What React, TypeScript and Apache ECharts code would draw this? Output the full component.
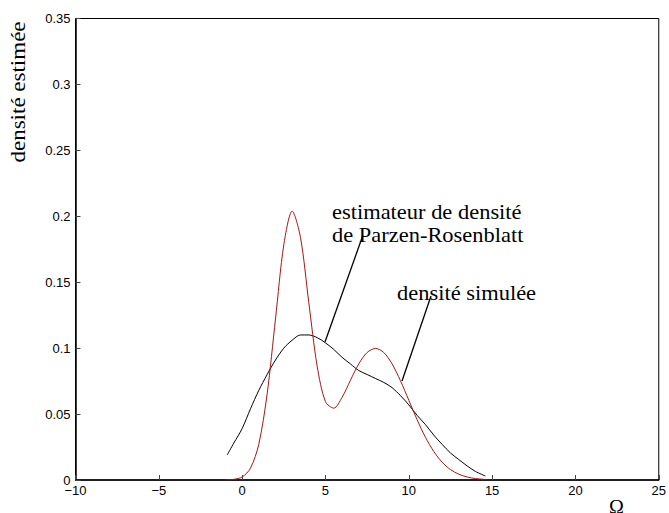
import React, { useEffect, useRef } from "react";
import * as echarts from "echarts";

const xTicks = [-10, -5, 0, 5, 10, 15, 20, 25];
const yTicks = [0, 0.05, 0.1, 0.15, 0.2, 0.25, 0.3, 0.35];

const redX = [-1, -0.5, 0, 0.5, 1, 1.5, 2, 2.5, 3, 3.5, 4, 4.5, 5, 5.5, 6, 6.5, 7, 7.5, 8, 8.5, 9, 9.5, 10, 10.5, 11, 11.5, 12, 12.5, 13, 13.5, 14, 14.5, 14.65];
const redY = [0.0001, 0.0005, 0.0023, 0.0089, 0.0272, 0.0653, 0.1221, 0.1784, 0.2039, 0.184, 0.1345, 0.0864, 0.0594, 0.0545, 0.0627, 0.0757, 0.0881, 0.0967, 0.0998, 0.0967, 0.088, 0.0753, 0.0605, 0.0457, 0.0324, 0.0216, 0.0135, 0.0079, 0.0044, 0.0023, 0.0011, 0.0005, 0.0004];

const blackX = [-0.9, -0.5, 0, 0.5, 1, 1.5, 2, 2.5, 3, 3.5, 4, 4.5, 5, 5.5, 6, 6.5, 7, 7.5, 8, 8.5, 9, 9.5, 10, 10.5, 11, 11.5, 12, 12.5, 13, 13.5, 14, 14.6];
const blackY = [0.019, 0.028, 0.039, 0.054, 0.068, 0.08, 0.091, 0.1, 0.106, 0.11, 0.11, 0.108, 0.104, 0.099, 0.093, 0.088, 0.083, 0.08, 0.077, 0.074, 0.07, 0.064, 0.057, 0.049, 0.042, 0.034, 0.027, 0.0205, 0.0155, 0.0107, 0.0065, 0.003];

const yTitle = "densité estimée";
const xTitle = "Ω";
const noteKde = ["estimateur de densité", "de Parzen-Rosenblatt"];
const noteSim = "densité simulée";

export default function App() {
  const ref = useRef<HTMLDivElement>(null);
  useEffect(() => {
    if (!ref.current) return;
    const chart = echarts.init(ref.current, null, { renderer: "svg" });
    const serif = "'Liberation Serif', 'Times New Roman', serif";
    const sans = "'Liberation Sans', Arial, sans-serif";
    chart.setOption({
      animation: false,
      backgroundColor: "#fff",
      grid: {
        left: 75.5,
        right: 9,
        top: 18.5,
        bottom: 33,
        show: true,
        borderColor: "#000",
        borderWidth: 1,
        backgroundColor: "transparent",
      },
      xAxis: {
        type: "value",
        min: xTicks[0],
        max: xTicks[xTicks.length - 1],
        interval: 5,
        splitLine: { show: false },
        axisLine: { show: true, onZero: false, lineStyle: { color: "#000", width: 1.5 } },
        axisTick: { show: true, inside: true, length: 5, lineStyle: { color: "#444" } },
        axisLabel: {
          color: "#000",
          fontFamily: sans,
          fontSize: 13,
          margin: 4,
          formatter: (v: number) => String(v).replace("-", "\u2212"),
        },
      },
      yAxis: {
        type: "value",
        min: yTicks[0],
        max: yTicks[yTicks.length - 1],
        interval: 0.05,
        splitLine: { show: false },
        axisLine: { show: true, onZero: false, lineStyle: { color: "#000", width: 1.5 } },
        axisTick: { show: true, inside: true, length: 5, lineStyle: { color: "#444" } },
        axisLabel: {
          color: "#000",
          fontFamily: sans,
          fontSize: 13,
          margin: 5,
          formatter: (v: number) => String(Math.round(v * 100) / 100),
        },
      },
      series: [
        {
          type: "line",
          data: blackX.map((x, i) => [x, blackY[i]]),
          smooth: 0.3,
          showSymbol: false,
          lineStyle: { color: "#000", width: 1 },
          z: 3,
        },
        {
          type: "line",
          data: redX.map((x, i) => [x, redY[i]]),
          smooth: 0.3,
          showSymbol: false,
          lineStyle: { color: "#a01818", width: 1 },
          z: 4,
        },
      ],
      graphic: [
        {
          type: "text",
          x: 19,
          y: 92,
          rotation: Math.PI / 2,
          scaleX: 1.15,
          style: {
            text: yTitle,
            fontFamily: serif,
            fontSize: 20,
            fill: "#000",
            align: "center",
            verticalAlign: "middle",
          },
        },
        {
          type: "text",
          left: 609,
          top: 497,
          style: { text: xTitle, fontFamily: serif, fontSize: 20, fill: "#000" },
        },
        {
          type: "text",
          x: 332,
          y: 202,
          scaleX: 1.07,
          style: { text: noteKde[0], fontFamily: serif, fontSize: 21, fill: "#000", verticalAlign: "alphabetic" },
        },
        {
          type: "text",
          x: 332,
          y: 225,
          scaleX: 1.07,
          style: { text: noteKde[1], fontFamily: serif, fontSize: 21, fill: "#000", verticalAlign: "alphabetic" },
        },
        {
          type: "text",
          x: 397,
          y: 283,
          scaleX: 1.07,
          style: { text: noteSim, fontFamily: serif, fontSize: 21, fill: "#000", verticalAlign: "alphabetic" },
        },
        {
          type: "line",
          shape: { x1: 363, y1: 235, x2: 325, y2: 342 },
          style: { stroke: "#000", lineWidth: 1.3 },
        },
        {
          type: "line",
          shape: { x1: 431, y1: 296, x2: 402, y2: 381 },
          style: { stroke: "#000", lineWidth: 1.3 },
        },
      ],
    });
    return () => chart.dispose();
  }, []);
  return <div ref={ref} style={{ width: 669, height: 513, position: "absolute", left: 0, top: 0 }} />;
}
